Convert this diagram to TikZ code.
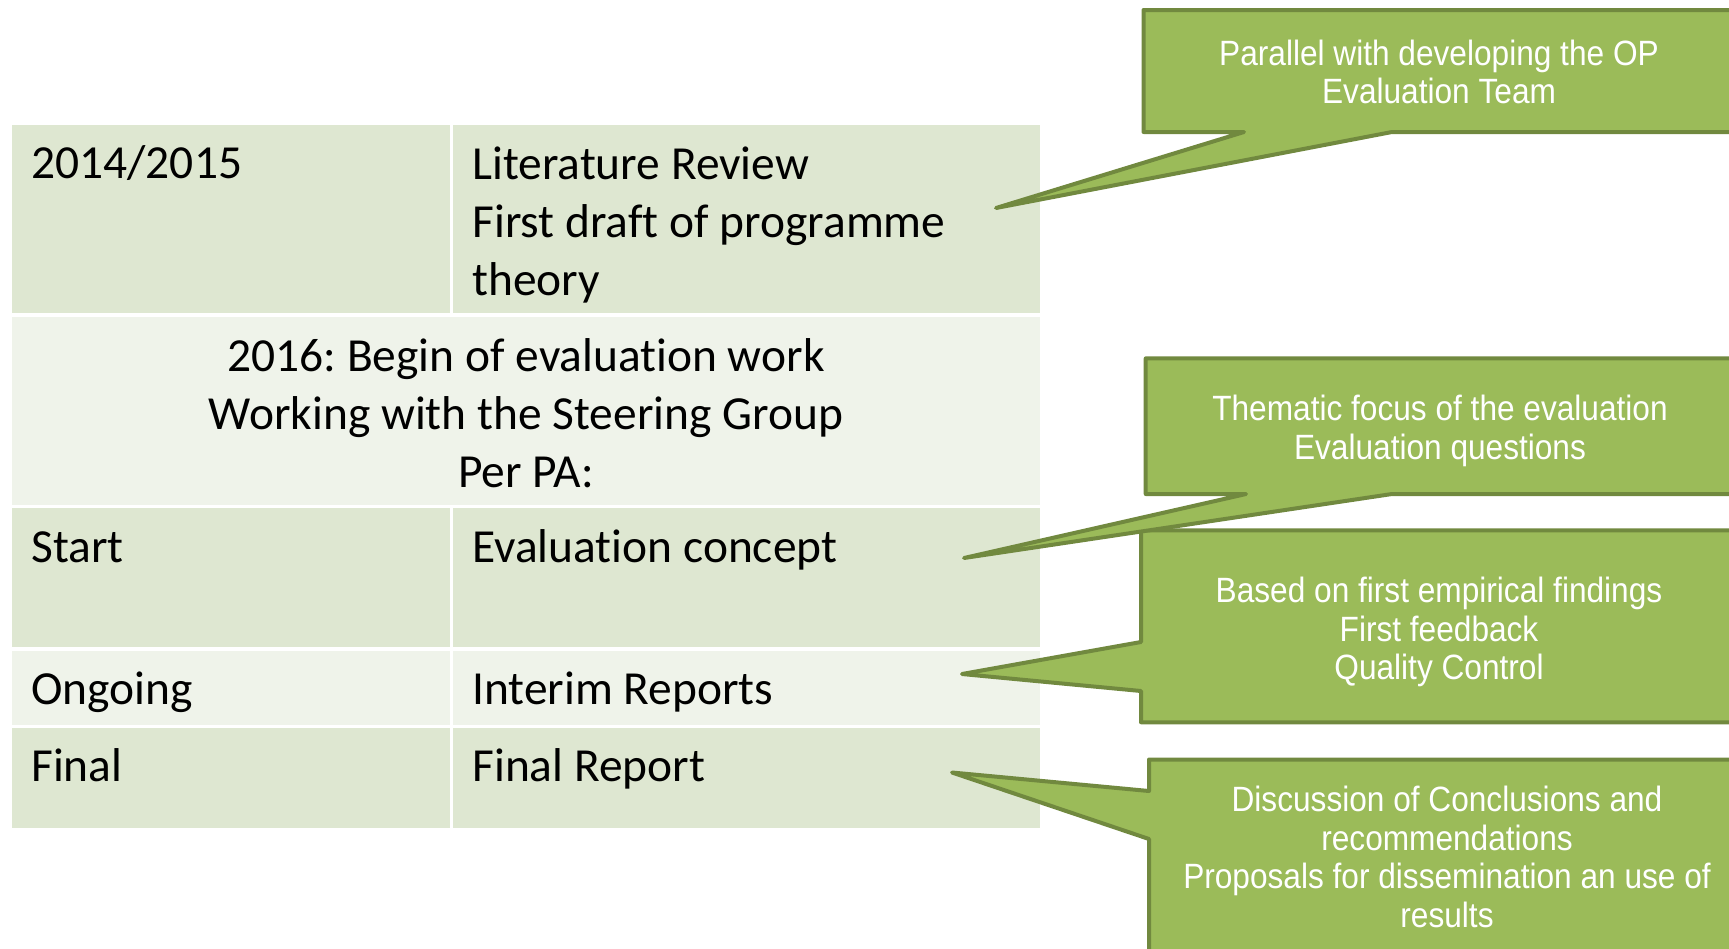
\documentclass[tikz,border=0pt]{standalone}
\usepackage{fontspec}
\setmainfont{Carlito}[Ligatures=NoCommon]
\newfontfamily\calloutfont[FakeStretch=0.9]{Liberation Sans}
\usetikzlibrary{calc}
\definecolor{rowdark}{HTML}{DEE7D1}
\definecolor{rowlight}{HTML}{EFF3EA}
\definecolor{calloutfill}{HTML}{9BBB59}
\definecolor{calloutline}{HTML}{71893F}
\frenchspacing
\tikzset{
	celltext/.style={inner sep=0pt, font=\fontsize{27}{33}\selectfont, align=left}, % table font
	callout/.style={fill=calloutfill, draw=calloutline, line width=0.8mm, line join=round},
	callouttext/.style={inner sep=0pt, text=white, align=center, font=\calloutfont\fontsize{20}{22}\selectfont},
}

\begin{document}
\begin{tikzpicture}[x=0.2mm, y=-0.2mm]
		\useasboundingbox (0,0) rectangle (1729,948);
		\clip (0,0) rectangle (1729,948);
		
		% column edges of the table
		\def\xl{12}
		\def\xm{450}
		\def\xn{453}
		\def\xr{1040}
		
		% row 1
		\fill[rowdark] (\xl,124.6) rectangle (\xm,313.2);
		\fill[rowdark] (\xn,124.6) rectangle (\xr,313.2);
		% row 2 (one cell)
		\fill[rowlight] (\xl,316.5) rectangle (\xr,505);
		% row 3
		\fill[rowdark] (\xl,508.3) rectangle (\xm,647.3);
		\fill[rowdark] (\xn,508.3) rectangle (\xr,647.3);
		% row 4
		\fill[rowlight] (\xl,650.6) rectangle (\xm,724.5);
		\fill[rowlight] (\xn,650.6) rectangle (\xr,724.5);
		% row 5
		\fill[rowdark] (\xl,727.8) rectangle (\xm,828.1);
		\fill[rowdark] (\xn,727.8) rectangle (\xr,828.1);
		
		% cell texts (base = last line)
		\node[celltext, anchor=base west] (year) at (31,178.6) {2014/2015};
		\node[celltext, anchor=base west] (review) at (472,295.4) {Literature Review\\First draft of programme\\theory};
		\node[celltext, align=center, anchor=base] (begin) at (526,487.3) {2016: Begin of evaluation work\\Working with the Steering Group\\Per PA:};
		\node[celltext, anchor=base west] (start) at (31,562.3) {Start};
		\node[celltext, anchor=base west] (concept) at (472,562.3) {Evaluation concept};
		\node[celltext, anchor=base west] (ongoing) at (31,704.6) {Ongoing};
		\node[celltext, anchor=base west] (interim) at (472,704.6) {Interim Reports};
		\node[celltext, anchor=base west] (final) at (31,781.8) {Final};
		\node[celltext, anchor=base west] (report) at (472,781.8) {Final Report};
		
		% callout 1
		\draw[callout] (1143.5,10) -- (1745,10) -- (1745,132) -- (1392,132) -- (996,208) -- (1244,132) -- (1143.5,132) -- cycle;
		\node[callouttext] (team) at (1439,72) {Parallel with developing the OP\\Evaluation Team};
		
		% callout 3 (before 2, its pointer lies on top)
		\draw[callout] (1141,530.4) -- (1745,530.4) -- (1745,722.3) -- (1141,722.3) -- (1141,691) -- (962,674) -- (1141,642) -- cycle;
		\node[callouttext] (feedback) at (1439,632) {Based on first empirical findings\\First feedback\\Quality Control};
		
		% callout 2
		\draw[callout] (1145.7,358.4) -- (1745,358.4) -- (1745,494) -- (1392,494) -- (964,558) -- (1246,494) -- (1145.7,494) -- cycle;
		\node[callouttext] (focus) at (1440,431) {Thematic focus of the evaluation\\Evaluation questions};
		
		% callout 4
		\draw[callout] (1149,759.5) -- (1750,759.5) -- (1750,960) -- (1149,960) -- (1149,839) -- (952,772.5) -- (1149,791) -- cycle;
		\node[callouttext] (results) at (1447,857) {Discussion of Conclusions and\\recommendations\\Proposals for dissemination an use of\\results};
		
\end{tikzpicture}
\end{document}
